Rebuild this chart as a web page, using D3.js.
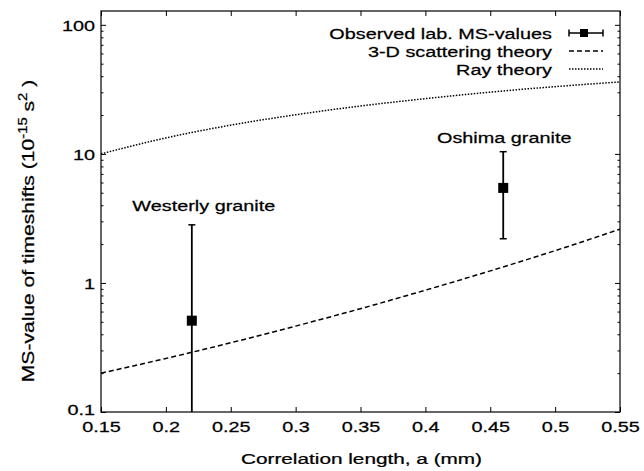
<!DOCTYPE html>
<html><head><meta charset="utf-8">
<script src="https://cdn.jsdelivr.net/npm/d3@7"></script>
<style>
html,body{margin:0;padding:0;background:#fff;}
svg{display:block;font-family:"Liberation Sans",Arial,Helvetica,sans-serif;}
svg text{stroke:#000;stroke-width:0.25px;}
</style></head>
<body><svg id="c" width="644" height="471"></svg>
<script>
// ---- data ----
const xTicks = [0.15,0.2,0.25,0.3,0.35,0.4,0.45,0.5,0.55];
const yTicks = [0.1,1,10,100];
const yTickLabels = ["0.1","1","10","100"];
const theoryX = [0.15,0.2,0.25,0.3,0.35,0.4,0.45,0.5,0.55];
const scattering3D = [0.200,0.260,0.344,0.463,0.632,0.879,1.24,1.78,2.61];
const rayTheory = [10,13.3,16.7,20.1,23.5,26.8,30.1,33.2,36.1];
const obsNames = ["Westerly granite","Oshima granite"];
const obsX = [0.22,0.46];
const obsY = [0.51,5.45];
const obsLow = [0.05,2.2];
const obsHigh = [2.82,10.4];

const FS = 15.5, SX = 1.28;
const svg = d3.select("#c");
const L=101,R=620,T=11,B=412;
const x = d3.scaleLinear().domain([0.15,0.55]).range([L,R]);
const y = d3.scaleLog().domain([0.1,128]).range([B,T]);

function label(parent, px, py, anchor, str){
  return parent.append("text").attr("transform",`translate(${px},${py}) scale(${SX},1)`)
    .attr("text-anchor",anchor).style("font-size",FS+"px").attr("fill","#000").text(str);
}

const minor=[];
for (let e=-1;e<=2;e++) for (let m=2;m<=9;m++){const v=m*Math.pow(10,e); if(v<=128) minor.push(v);}

function styleAxis(g){
  g.select(".domain").remove();
  g.selectAll(".tick line").attr("stroke","#000").attr("stroke-width",1);
}
// bottom
const gb = svg.append("g").attr("transform",`translate(0,${B})`)
  .call(d3.axisBottom(x).tickValues(xTicks).tickSize(-5).tickFormat(""))
  .call(styleAxis);
gb.selectAll(".tick").each(function(d){ label(d3.select(this),0,20,"middle",d3.format("")(d)); });
// top
svg.append("g").attr("transform",`translate(0,${T})`)
  .call(d3.axisTop(x).tickValues(xTicks).tickSize(-5).tickFormat(""))
  .call(styleAxis);
// left major
const gl = svg.append("g").attr("transform",`translate(${L},0)`)
  .call(d3.axisLeft(y).tickValues(yTicks).tickSize(-5).tickFormat(""))
  .call(styleAxis);
gl.selectAll(".tick").each(function(d,i){ label(d3.select(this),-6,i===0?2.5:5.5,"end",yTickLabels[i]); });
svg.append("g").attr("transform",`translate(${L},0)`)
  .call(d3.axisLeft(y).tickValues(minor).tickSize(-2.5).tickFormat(""))
  .call(styleAxis);
// right
svg.append("g").attr("transform",`translate(${R},0)`)
  .call(d3.axisRight(y).tickValues(yTicks).tickSize(-5).tickFormat(""))
  .call(styleAxis);
svg.append("g").attr("transform",`translate(${R},0)`)
  .call(d3.axisRight(y).tickValues(minor).tickSize(-2.5).tickFormat(""))
  .call(styleAxis);

// frame
svg.append("rect").attr("x",L).attr("y",T).attr("width",R-L).attr("height",B-T)
  .attr("fill","none").attr("stroke","#000").attr("stroke-width",1.2);

svg.append("defs").append("clipPath").attr("id","clip")
  .append("rect").attr("x",L).attr("y",T).attr("width",R-L).attr("height",B-T);
const plot = svg.append("g").attr("clip-path","url(#clip)");

const line = d3.line().x(d=>x(d[0])).y(d=>y(d[1])).curve(d3.curveMonotoneX);
plot.append("path").datum(theoryX.map((v,i)=>[v,scattering3D[i]]))
  .attr("d",line).attr("fill","none").attr("stroke","#000").attr("stroke-width",1.5)
  .attr("stroke-dasharray","5,3");
plot.append("path").datum(theoryX.map((v,i)=>[v,rayTheory[i]]))
  .attr("d",line).attr("fill","none").attr("stroke","#000").attr("stroke-width",1.5)
  .attr("stroke-dasharray","1.5,1.5");

// error bars
obsX.forEach((xv,i)=>{
  const cx=x(xv);
  plot.append("line").attr("x1",cx).attr("x2",cx).attr("y1",y(obsLow[i])).attr("y2",y(obsHigh[i]))
    .attr("stroke","#000").attr("stroke-width",1.8);
  [obsLow[i],obsHigh[i]].forEach(v=>{
    plot.append("line").attr("x1",cx-3.5).attr("x2",cx+3.5).attr("y1",y(v)).attr("y2",y(v))
      .attr("stroke","#000").attr("stroke-width",1.5);
  });
  plot.append("rect").attr("x",cx-5).attr("y",y(obsY[i])-5).attr("width",10).attr("height",10).attr("fill","#000");
});

// annotations
label(svg, x(obsX[0])+12, 211, "middle", obsNames[0]);
label(svg, x(obsX[1])+1, 143, "middle", obsNames[1]);

// legend
const lg = svg.append("g");
const lx=552, sx1=569, sx2=603;
const rows=[33,51,69];
label(lg,lx,rows[0]+5.5,"end","Observed lab. MS-values");
label(lg,lx,rows[1]+5.5,"end","3-D scattering theory");
label(lg,lx,rows[2]+5.5,"end","Ray theory");
lg.append("line").attr("x1",sx1).attr("x2",sx2).attr("y1",rows[0]).attr("y2",rows[0]).attr("stroke","#000").attr("stroke-width",1.5);
[sx1,sx2].forEach(v=>lg.append("line").attr("x1",v).attr("x2",v).attr("y1",rows[0]-3.5).attr("y2",rows[0]+3.5).attr("stroke","#000").attr("stroke-width",1.5));
lg.append("rect").attr("x",(sx1+sx2)/2-6).attr("y",rows[0]-4).attr("width",8).attr("height",8).attr("fill","#000");
lg.append("line").attr("x1",sx1).attr("x2",sx2).attr("y1",rows[1]).attr("y2",rows[1]).attr("stroke","#000").attr("stroke-width",1.5).attr("stroke-dasharray","5,3");
lg.append("line").attr("x1",sx1).attr("x2",sx2).attr("y1",rows[2]).attr("y2",rows[2]).attr("stroke","#000").attr("stroke-width",1.5).attr("stroke-dasharray","1.5,1.5");

// axis titles
const xt = label(svg,(L+R)/2+1,464,"middle","Correlation length, a (mm)");
xt.attr("transform",`translate(${(L+R)/2+1},464) scale(1.34,1)`);
const yt = svg.append("text").attr("transform","translate(34,231) rotate(-90) scale(1.24,1)").attr("text-anchor","middle")
  .style("font-size","17px").attr("fill","#000");
yt.append("tspan").text("MS-value of timeshifts (10");
yt.append("tspan").attr("dy",-7).style("font-size","12px").text("-15");
yt.append("tspan").attr("dy",7).text(" s");
yt.append("tspan").attr("dy",-7).style("font-size","12px").text("2");
yt.append("tspan").attr("dy",7).text(" )");
</script></body></html>
